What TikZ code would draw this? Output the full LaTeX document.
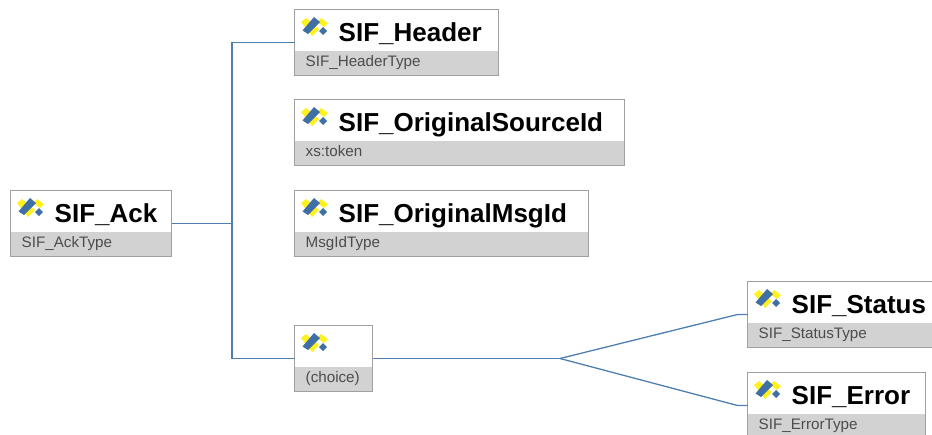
\documentclass[tikz,border=0pt]{standalone}
\usepackage{fontspec}
\setmainfont{Liberation Sans}
\usepackage{xcolor}
\usetikzlibrary{calc,positioning}
\definecolor{linkblue}{HTML}{4F7FAF}
\definecolor{iconblue}{HTML}{3F6FA5}
\definecolor{iconyellow}{HTML}{FFF020}
\definecolor{boxgray}{HTML}{A0A0A0}
\definecolor{typegray}{HTML}{D2D2D2}
\tikzset{
  link/.style = {draw=linkblue, line width=1.3pt},
  elem/.style = {draw=boxgray, line width=1.6pt, anchor=north west, inner sep=0pt, outer sep=0pt, minimum height=66pt,
    path picture={
      \fill[typegray] ($(path picture bounding box.south west)+(0,-25)$) rectangle (path picture bounding box.north east |- path picture bounding box.south);
    }},
  title/.style = {anchor=base west, inner sep=0pt, font=\bfseries\fontsize{26}{26}\selectfont},
  typename/.style = {anchor=base west, inner sep=0pt, font=\fontsize{15.2}{15.2}\selectfont, text=black!70},
  elemicon/.pic = {
    \fill[iconyellow] (0,6) -- (5,2) -- (18,13) -- (11,20) -- cycle;
    \fill[iconyellow] (16,6) -- (20,2) -- (27,7) -- (23,11) -- cycle;
    \fill[iconblue] (1.5,14.5) -- (13,1) -- (19,6) -- (7,18) -- cycle;
    \fill[iconblue] (18,15) -- (22,11) -- (26,15) -- (22,19) -- cycle;
  }
}
\begin{document}
\begin{tikzpicture}[x=1pt, y=-1pt]
  \useasboundingbox (0,0) rectangle (932,434);
  \clip (0,0) rectangle (932,434);
  % element boxes
  \foreach \id/\xpos/\ypos/\wid/\ttl/\typ in {
      ack/10.5/190.5/161/SIF\_Ack/SIF\_AckType,
      header/294.5/9.5/204/SIF\_Header/SIF\_HeaderType,
      source/294.5/99.5/330/SIF\_OriginalSourceId/xs:token,
      msg/294.5/190.5/294/SIF\_OriginalMsgId/MsgIdType,
      choice/294.5/325.5/78//(choice),
      status/747.5/281.5/200/SIF\_Status/SIF\_StatusType,
      error/747.5/372.5/178/SIF\_Error/SIF\_ErrorType}
  {
    \node (\id) [elem, minimum width=\wid pt] at (\xpos,\ypos) {};
    \pic at (\xpos+6.5,\ypos+6.5) {elemicon};
    \node (\id-title) [title] at (\xpos+44,\ypos+31.5) {\ttl};
    \node (\id-type)  [typename] at (\xpos+11,\ypos+56.5) {\typ};
  }
  % connectors
  \coordinate (trunk) at (232,223.5);
  \coordinate (fork) at (560,358.5);
  \coordinate (statusbend) at ($(status.west)+(-10,0)$);
  \coordinate (errorbend) at ($(error.west)+(-10,0)$);
  \draw[link] (ack.east) -- (trunk);
  \draw[link] (trunk) |- (header.west);
  \draw[link] (trunk) |- (choice.west);
  \draw[link] (choice.east) -- (fork);
  \draw[link] (fork) -- (statusbend) -- (status.west);
  \draw[link] (fork) -- (errorbend) -- (error.west);
\end{tikzpicture}
\end{document}
